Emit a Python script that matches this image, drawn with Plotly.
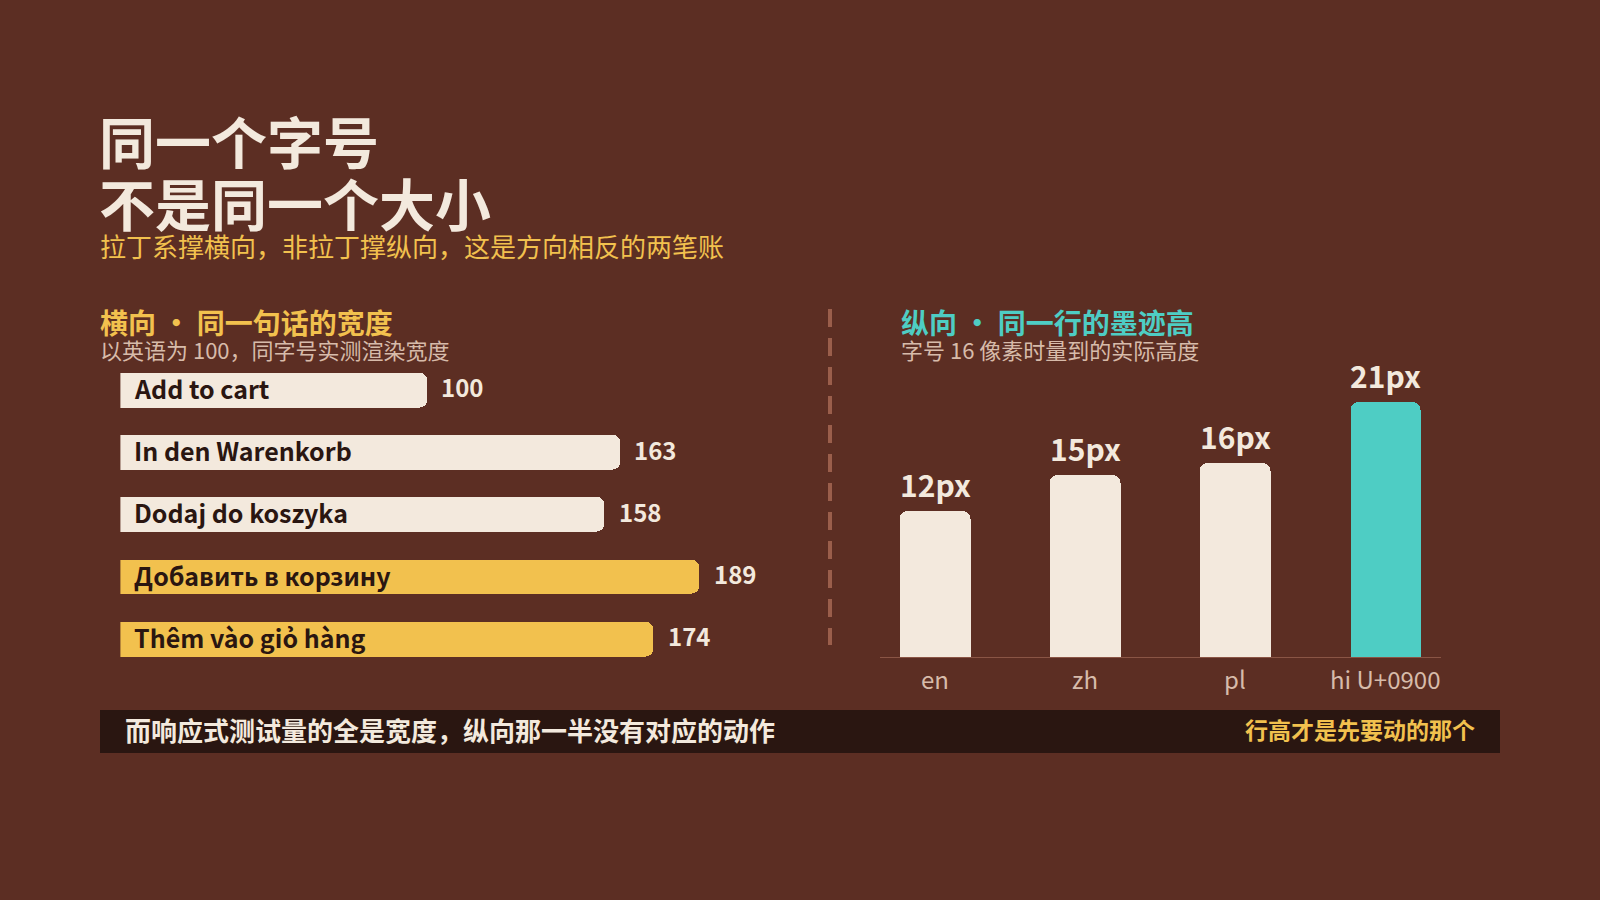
import plotly.graph_objects as go

# ---------------- data ----------------
phrases = ["Add to cart", "In den Warenkorb", "Dodaj do koszyka", "Добавить в корзину", "Thêm vào giỏ hàng"]
widths = [100, 163, 158, 189, 174]

langs = ["en", "zh", "pl", "hi U+0900"]
heights = [12, 15, 16, 21]
height_labels = ["12px", "15px", "16px", "21px"]

title_lines = ["同一个字号", "不是同一个大小"]
subtitle = "拉丁系撑横向，非拉丁撑纵向，这是方向相反的两笔账"
left_head = "横向 · 同一句话的宽度"
left_sub = "以英语为 100，同字号实测渲染宽度"
right_head = "纵向 · 同一行的墨迹高"
right_sub = "字号 16 像素时量到的实际高度"
foot_left = "而响应式测试量的全是宽度，纵向那一半没有对应的动作"
foot_right = "行高才是先要动的那个"

# ---------------- style ----------------
W, H = 1600, 900
BG = "#5C2E23"
CREAM = "#F3E9DD"
YELLOW = "#F2C14E"
TEAL = "#4ECDC4"
MUTED = "#D7BBAA"
FOOT = "#2A1611"
DIV = "#9A5E4B"
AXIS = "#8A5545"
FONT = "Noto Sans CJK SC, Noto Sans, sans-serif"

width_colors = [CREAM, CREAM, CREAM, YELLOW, YELLOW]
height_colors = [CREAM, CREAM, CREAM, TEAL]


def px_x(p):
    return p / W


def px_y(p):
    return 1 - p / H


fig = go.Figure()

# left: horizontal bars
fig.add_trace(go.Bar(
    x=widths, y=list(range(len(widths))), orientation="h",
    marker=dict(color=width_colors, line=dict(width=0), cornerradius=8),
    width=0.56, xaxis="x", yaxis="y", hoverinfo="skip", showlegend=False,
))

# right: vertical bars
fig.add_trace(go.Bar(
    x=list(range(len(heights))), y=heights,
    marker=dict(color=height_colors, line=dict(width=0), cornerradius=8),
    width=0.47, xaxis="x2", yaxis="y2", hoverinfo="skip", showlegend=False,
))

ann = []


def text(x, y, s, size, color, bold=False, xanchor="left", yanchor="middle",
         xref="paper", yref="paper", xshift=0, yshift=0):
    ann.append(dict(
        x=x, y=y, text=s, xref=xref, yref=yref, xanchor=xanchor, yanchor=yanchor,
        xshift=xshift, yshift=yshift, showarrow=False,
        font=dict(family=FONT, size=size, color=color, weight=700 if bold else 400),
    ))


# titles
text(px_x(97), px_y(139.5), title_lines[0], 56, CREAM, bold=True)
text(px_x(97), px_y(201), title_lines[1], 56, CREAM, bold=True)
text(px_x(98), px_y(246), subtitle, 26, YELLOW)

text(px_x(98), px_y(321.5), left_head, 28, YELLOW, bold=True)
text(px_x(98), px_y(349), left_sub, 22, MUTED)
text(px_x(899), px_y(321.5), right_head, 28, TEAL, bold=True)
text(px_x(899), px_y(349), right_sub, 22, MUTED)

# bar labels (left)
for i, (p, v) in enumerate(zip(phrases, widths)):
    text(0, i, p, 25, "#2A1611", bold=True, xref="x", yref="y", xshift=12, yshift=2)
    text(v, i, str(v), 24, CREAM, bold=True, xref="x", yref="y", xshift=12, yshift=3)

# value labels (right)
for i, (lab, v) in enumerate(zip(height_labels, heights)):
    text(i, v, lab, 30, CREAM, bold=True, xanchor="center", xref="x2", yref="y2", yshift=27)

# category labels (right)
for i, lab in enumerate(langs):
    text(i, 0, lab, 24, MUTED, xanchor="center", xref="x2", yref="y2", yshift=-21)

# footer
text(px_x(123), px_y(729), foot_left, 26, CREAM, bold=True)
text(px_x(1477), px_y(729), foot_right, 23, YELLOW, bold=True, xanchor="right")

shapes = [
    dict(type="line", xref="paper", yref="paper", x0=px_x(830), x1=px_x(830),
         y0=px_y(309), y1=px_y(645), line=dict(color=DIV, width=4, dash="18px,11px")),
    dict(type="rect", xref="paper", yref="paper", x0=px_x(100), x1=px_x(1500),
         y0=px_y(753), y1=px_y(710), fillcolor=FOOT, line=dict(width=0), layer="below"),
]

fig.update_layout(
    width=W, height=H, margin=dict(l=0, r=0, t=0, b=0),
    paper_bgcolor=BG, plot_bgcolor="rgba(0,0,0,0)",
    font=dict(family=FONT, color=CREAM),
    annotations=ann, shapes=shapes, bargap=0,
    xaxis=dict(domain=[px_x(120.4), px_x(800)], range=[0, (800 - 120.4) / 3.066],
               visible=False, fixedrange=True),
    yaxis=dict(domain=[px_y(670), px_y(358.6)], range=[4.5, -0.5],
               visible=False, fixedrange=True),
    xaxis2=dict(domain=[px_x(879.6), px_x(1441)], range=[-0.37, 3.37],
                tickvals=list(range(len(langs))), showticklabels=False,
                showline=True, linecolor=AXIS, linewidth=1, showgrid=False,
                zeroline=False, ticks="", anchor="y2", fixedrange=True),
    yaxis2=dict(domain=[px_y(657), px_y(380)], range=[0, 277 / 12.15],
                visible=False, anchor="x2", fixedrange=True),
)

fig.write_html("out.html")
